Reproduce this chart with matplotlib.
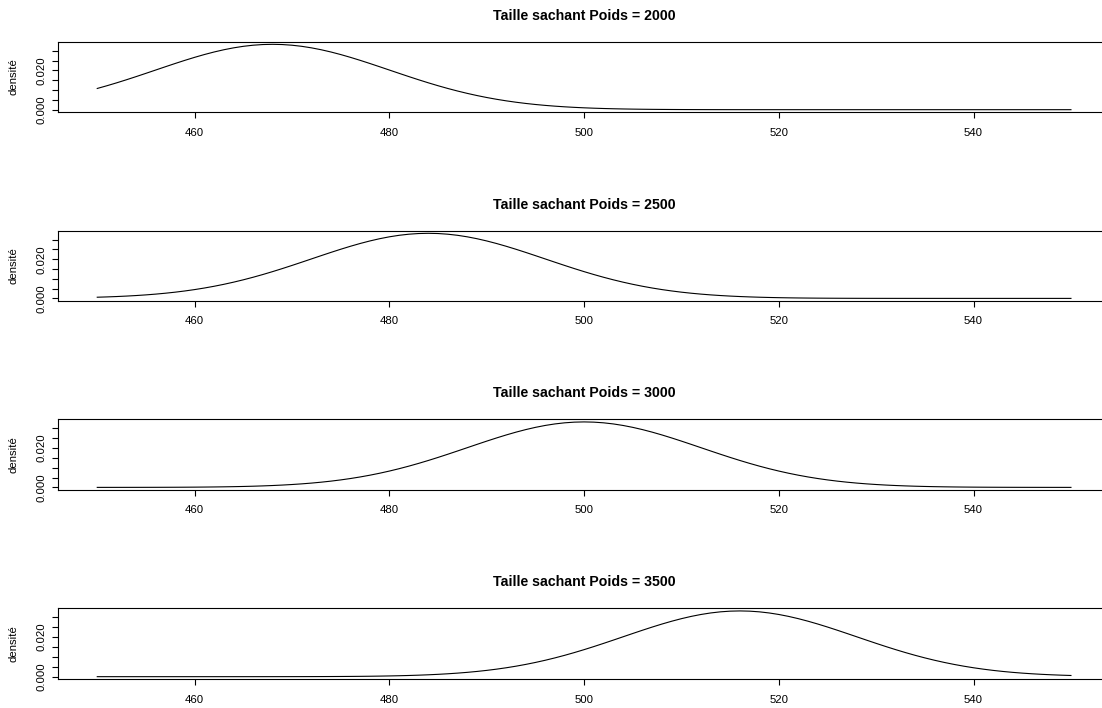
import numpy as np
import matplotlib
matplotlib.use("Agg")
import matplotlib.pyplot as plt

# Data
poids = [2000, 2500, 3000, 3500]
means = [468, 484, 500, 516]      # peak positions (taille)
sd = 12.0                           # common spread
x_from, x_to = 450, 550
x_ticks = [460, 480, 500, 520, 540]
y_ticks = [0.000, 0.005, 0.010, 0.015, 0.020, 0.025, 0.030]
y_labels = ["0.000", "", "", "", "0.020", "", ""]

plt.rcParams['font.family'] = ['Liberation Sans', 'DejaVu Sans']

W, H = 1102, 708
fig = plt.figure(figsize=(W / 100, H / 100), dpi=100)

tops = [41.7, 230.7, 419.3, 608.3]
bottoms = [112.3, 301.0, 490.0, 679.3]
left_px, right_px = 58.3, 1109.9

x = np.linspace(x_from, x_to, 101)
for i, (p, m) in enumerate(zip(poids, means)):
    ax = fig.add_axes([left_px / W, 1 - bottoms[i] / H,
                       (right_px - left_px) / W, (bottoms[i] - tops[i]) / H])
    y = np.exp(-0.5 * ((x - m) / sd) ** 2) / (sd * np.sqrt(2 * np.pi))
    ax.plot(x, y, color='black', lw=0.8)
    rx = x_to - x_from
    ax.set_xlim(x_from - 0.04 * rx, x_to + 0.04 * rx)
    ry = y.max() - y.min()
    ax.set_ylim(y.min() - 0.04 * ry, y.max() + 0.04 * ry)
    ax.set_xticks(x_ticks)
    ax.set_xticklabels([str(t) for t in x_ticks], fontsize=8.2)
    ax.set_yticks(y_ticks)
    ax.set_yticklabels(y_labels, fontsize=8.2, rotation=90, va='center')
    ax.tick_params(axis='both', direction='out', length=4.4, width=0.8, color='black')
    ax.tick_params(axis='x', pad=6.7)
    ax.tick_params(axis='y', pad=4)
    for s in ax.spines.values():
        s.set_linewidth(0.8)
    ax.set_ylabel("densité", fontsize=8.2, labelpad=13)
    ax.set_title(f"Taille sachant Poids = {p}", fontsize=10.2, fontweight='bold', pad=15.7)

fig.savefig("out.png", dpi=100)
